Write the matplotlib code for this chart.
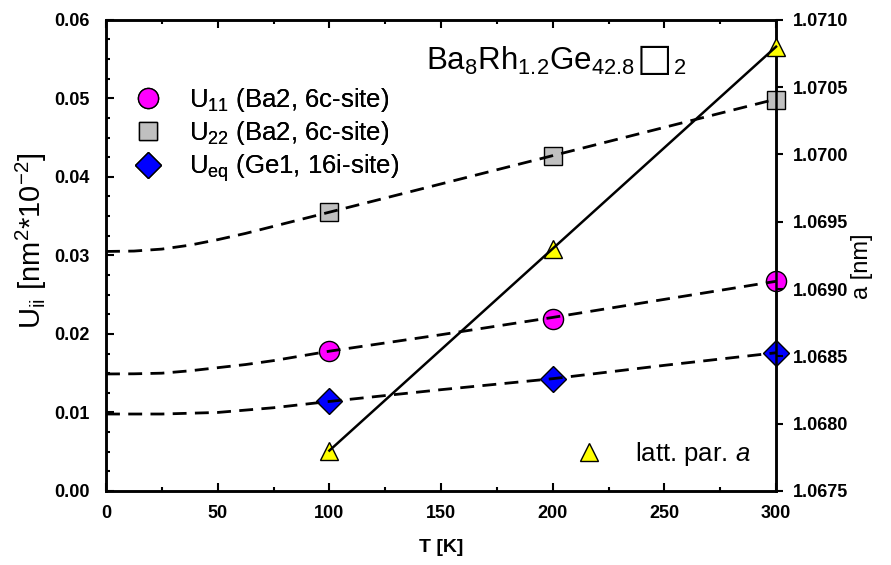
import matplotlib
matplotlib.use("Agg")
import matplotlib.pyplot as plt
from matplotlib.lines import Line2D
from matplotlib.offsetbox import TextArea, HPacker, AnnotationBbox
from matplotlib.ticker import MultipleLocator, FormatStrFormatter

plt.rcParams['font.family'] = ['Liberation Sans', 'DejaVu Sans']
plt.rcParams['mathtext.fontset'] = 'custom'
plt.rcParams['mathtext.rm'] = 'Liberation Sans'
plt.rcParams['mathtext.it'] = 'Liberation Sans:italic'
plt.rcParams['mathtext.bf'] = 'Liberation Sans:bold'

# measured temperatures and parameters
T = [100, 200, 300]
U11 = [0.0178, 0.0219, 0.0267]
U22 = [0.0355, 0.0427, 0.0498]
Ueq = [0.0115, 0.0143, 0.0176]
latt_a = [1.0678, 1.0693, 1.0708]

# fitted curves (read at these temperatures)
T_fit = [0, 12.5, 25, 37.5, 50, 62.5, 75, 87.5, 100, 150, 200, 250, 300]
U22_fit = [0.0305, 0.03055, 0.0308, 0.0313, 0.0320, 0.0328, 0.0337, 0.0346, 0.0355,
           0.0391, 0.0427, 0.0463, 0.0499]
U11_fit = [0.0149, 0.01492, 0.0150, 0.0153, 0.0157, 0.0161, 0.0166, 0.0172, 0.0178,
           0.0199, 0.0221, 0.0244, 0.0267]
Ueq_fit = [0.0098, 0.0098, 0.0098, 0.0099, 0.0100, 0.0103, 0.0106, 0.0110, 0.0114,
           0.0129, 0.0143, 0.0160, 0.0176]

fig = plt.figure(figsize=(8.91, 5.65), dpi=100)
ax = fig.add_axes([0.119, 0.131, 0.752, 0.834])
ax2 = ax.twinx()

dash = dict(color='black', lw=2.0, dashes=(5, 3), zorder=4, clip_on=False)
mk = dict(ls='none', markeredgecolor='black', markeredgewidth=1.0, zorder=3, clip_on=False)

ax.plot(T, U11, marker='o', ms=14.5, markerfacecolor='#ff00ff', **mk)
ax.plot(T, U22, marker='s', ms=13, markerfacecolor='#c0c0c0', **mk)
ax.plot(T, Ueq, marker='D', ms=13, markerfacecolor='#0000ff', **mk)
ax.plot(T_fit, U11_fit, **dash)
ax.plot(T_fit, U22_fit, **dash)
ax.plot(T_fit, Ueq_fit, **dash)

ax2.plot(T, latt_a, marker='^', ms=13, markerfacecolor='#ffff00', **mk)
ax2.plot(T, latt_a, color='black', lw=1.8, zorder=4, clip_on=False)

ax.set_xlim(0, 300)
ax.set_ylim(0, 0.06)
ax2.set_ylim(1.0675, 1.0710)

ax.xaxis.set_major_locator(MultipleLocator(50))
ax.xaxis.set_minor_locator(MultipleLocator(25))
ax.yaxis.set_major_locator(MultipleLocator(0.01))
ax.yaxis.set_minor_locator(MultipleLocator(0.0025))
ax.yaxis.set_major_formatter(FormatStrFormatter('%.2f'))
ax2.yaxis.set_major_locator(MultipleLocator(0.0005))
ax2.yaxis.set_major_formatter(FormatStrFormatter('%.4f'))

for a in (ax, ax2):
    for s in a.spines.values():
        s.set_linewidth(1.8)

ax.tick_params(axis='both', which='both', direction='in', width=1.5,
               top=True, right=False, labelsize=13)
ax.tick_params(axis='both', which='major', length=6)
ax.tick_params(axis='both', which='minor', length=3)
ax.tick_params(axis='y', pad=12)
ax.tick_params(axis='x', pad=10)
ax2.tick_params(axis='y', direction='out', length=5, width=1.5, labelsize=13, pad=7)
for lbl in ax.get_xticklabels() + ax.get_yticklabels() + ax2.get_yticklabels():
    lbl.set_fontweight('bold')

ax.set_xlabel('T [K]', fontsize=14, fontweight='bold', labelpad=12)
ax.set_ylabel(r'U$_{\rm ii}$ [nm$^2$*10$^{-2}$]', fontsize=21, va='center')
ax.yaxis.set_label_coords(-0.112, 0.531)
ax2.set_ylabel('a [nm]', fontsize=17, va='center')
ax2.yaxis.set_label_coords(1.128, 0.476)

# compound formula with a vacancy box
formula = HPacker(children=[
    TextArea('Ba$_8$Rh$_{1.2}$Ge$_{42.8}$', textprops=dict(fontsize=22.5)),
    TextArea('\u25a1', textprops=dict(fontsize=27, family='DejaVu Sans')),
    TextArea('$_2$', textprops=dict(fontsize=22.5)),
], align='baseline', pad=0, sep=1)
ax.add_artist(AnnotationBbox(formula, (0.478, 0.915), xycoords='axes fraction',
                             box_alignment=(0, 0.5), frameon=False, pad=0))

handles = [
    Line2D([], [], ls='none', marker='o', ms=14.5, markerfacecolor='#ff00ff', markeredgecolor='black'),
    Line2D([], [], ls='none', marker='s', ms=13, markerfacecolor='#c0c0c0', markeredgecolor='black'),
    Line2D([], [], ls='none', marker='D', ms=13, markerfacecolor='#0000ff', markeredgecolor='black'),
]
labels = [r'U$_{11}$ (Ba2, 6c-site)', r'U$_{22}$ (Ba2, 6c-site)', r'U$_{\rm eq}$ (Ge1, 16i-site)']
leg = ax.legend(handles, labels, loc='upper left', bbox_to_anchor=(0.02, 0.886),
                frameon=False, fontsize=18.5, handlelength=1.2, handletextpad=1.0,
                labelspacing=0.2, borderpad=0)
ax.add_artist(leg)

tri = [Line2D([], [], ls='none', marker='^', ms=13, markerfacecolor='#ffff00', markeredgecolor='black')]
ax2.legend(tri, [r'latt. par. $a$'], loc='lower left', bbox_to_anchor=(0.679, 0.021),
           frameon=False, fontsize=18.5, handlelength=1.2, handletextpad=1.2, borderpad=0)

fig.savefig('out.png', dpi=100)
